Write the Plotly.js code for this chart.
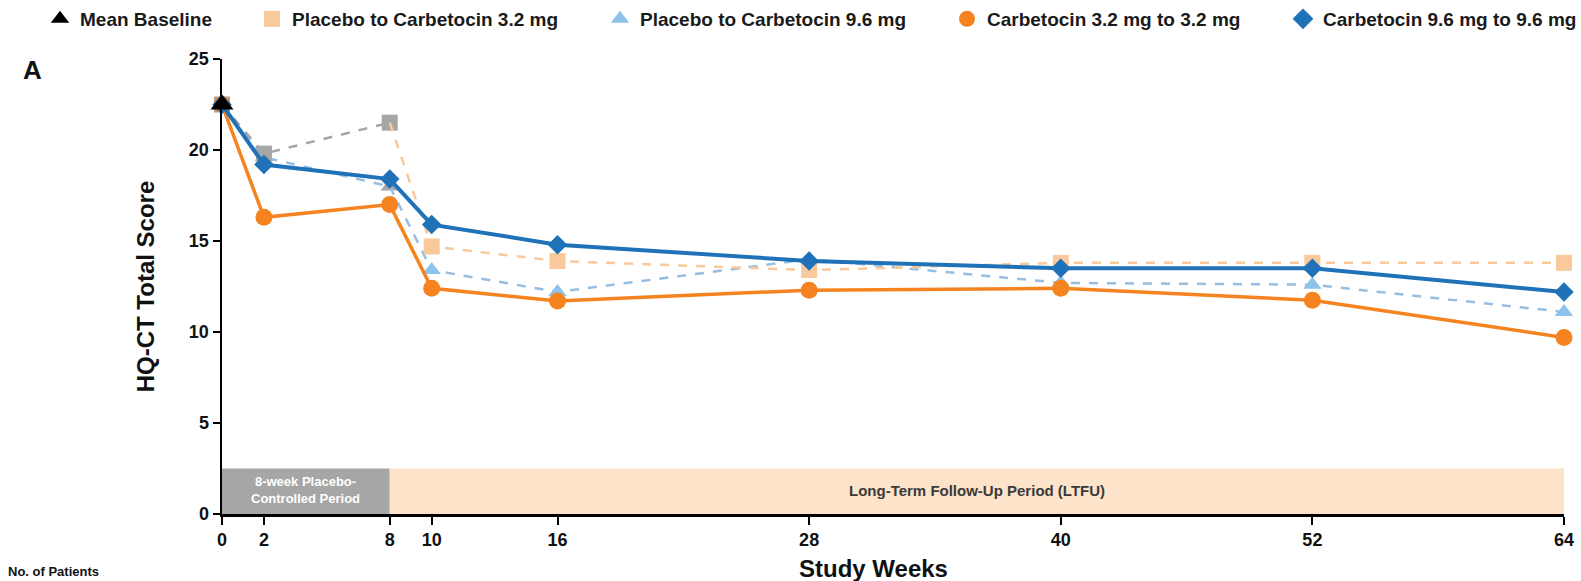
<!DOCTYPE html>
<html>
<head>
<meta charset="utf-8">
<script src="https://cdn.plot.ly/plotly-3.0.1.min.js"></script>
<style>
  html, body { margin: 0; padding: 0; background: #ffffff; }
  #chart { width: 1581px; height: 581px; }
</style>
</head>
<body>
<div id="chart"></div>
<script>
// ---- Data ----
const weeks = [0, 2, 8, 10, 16, 28, 40, 52, 64];
const baselineWeek = [0];
const baselineScore = [22.5];
const placeboTo32 = [22.5, 19.8, 21.5, 14.7, 13.9, 13.4, 13.8, 13.8, 13.8];
const placeboTo96 = [22.5, 19.6, 18.0, 13.4, 12.2, 14.0, 12.7, 12.6, 11.1];
const carb32 = [22.5, 16.3, 17.0, 12.4, 11.7, 12.3, 12.4, 11.75, 9.7];
const carb96 = [22.5, 19.2, 18.4, 15.9, 14.8, 13.9, 13.5, 13.5, 12.2];
const tickWeeks = [0, 2, 8, 10, 16, 28, 40, 52, 64];
const periods = [
  { name: "8-week Placebo-<br>Controlled Period", start: 0, end: 8 },
  { name: "Long-Term Follow-Up Period (LTFU)", start: 8, end: 64 }
];
const periodBandTop = 2.5;
const legendNames = ["Mean Baseline", "Placebo to Carbetocin 3.2 mg", "Placebo to Carbetocin 9.6 mg",
                     "Carbetocin 3.2 mg to 3.2 mg", "Carbetocin 9.6 mg to 9.6 mg"];

// ---- Styles ----
const FONT = "Liberation Sans, Arial, Helvetica, sans-serif";
const C = {
  black: "#000000",
  gray: "#a6a6a6",
  peach: "#f9c99b",
  lightBlue: "#8cc3ea",
  lightBlueLine: "#97bde0",
  orange: "#f5831f",
  blue: "#1f72b8",
  grayBand: "#a6a6a6",
  peachBand: "#fce3c9"
};

const nPlc = 3;                      // indices 0..2 : placebo-controlled period (weeks 0-8)
const plcX = weeks.slice(0, nPlc);
const ltfuX = weeks.slice(nPlc - 1);
const ltfuOpacity = ltfuX.map((_, i) => (i === 0 ? 0 : 1));

const traces = [
  // Placebo-controlled period (gray)
  { x: plcX, y: placeboTo96.slice(0, nPlc), mode: "lines+markers", showlegend: false, cliponaxis: false,
    line: { color: C.lightBlueLine, width: 2.5, dash: "dash" },
    marker: { symbol: "triangle-up", size: 16, color: C.gray } },
  { x: plcX, y: placeboTo32.slice(0, nPlc), mode: "lines+markers", showlegend: false, cliponaxis: false,
    line: { color: C.gray, width: 2.5, dash: "dash" },
    marker: { symbol: "square", size: 16, color: C.gray } },
  // LTFU period for placebo groups
  { x: ltfuX, y: placeboTo96.slice(nPlc - 1), mode: "lines+markers", showlegend: false, cliponaxis: false,
    line: { color: C.lightBlueLine, width: 2.5, dash: "dash" },
    marker: { symbol: "triangle-up", size: 16, color: C.lightBlue, opacity: ltfuOpacity } },
  { x: ltfuX, y: placeboTo32.slice(nPlc - 1), mode: "lines+markers", showlegend: false, cliponaxis: false,
    line: { color: C.peach, width: 2.5, dash: "dash" },
    marker: { symbol: "square", size: 16, color: C.peach, opacity: ltfuOpacity } },
  // Carbetocin groups
  { x: weeks, y: carb32, mode: "lines+markers", showlegend: false, cliponaxis: false,
    line: { color: C.orange, width: 3.5 },
    marker: { symbol: "circle", size: 17, color: C.orange } },
  { x: weeks, y: carb96, mode: "lines+markers", showlegend: false, cliponaxis: false,
    line: { color: C.blue, width: 4 },
    marker: { symbol: "diamond", size: 15, color: C.blue } },
  // Mean baseline
  { x: baselineWeek, y: baselineScore, mode: "markers", showlegend: false, cliponaxis: false,
    marker: { symbol: "triangle-up", size: 20, color: C.black } },

  // Legend entries (markers only)
  { x: [null], y: [null], mode: "markers", name: legendNames[0], legend: "legend",
    marker: { symbol: "triangle-up", size: 20, color: C.black } },
  { x: [null], y: [null], mode: "markers", name: legendNames[1], legend: "legend2",
    marker: { symbol: "square", size: 20, color: C.peach } },
  { x: [null], y: [null], mode: "markers", name: legendNames[2], legend: "legend3",
    marker: { symbol: "triangle-up", size: 20, color: C.lightBlue } },
  { x: [null], y: [null], mode: "markers", name: legendNames[3], legend: "legend4",
    marker: { symbol: "circle", size: 20, color: C.orange } },
  { x: [null], y: [null], mode: "markers", name: legendNames[4], legend: "legend5",
    marker: { symbol: "diamond", size: 20, color: C.blue } }
];

const W = 1581, H = 581;
const M = { l: 222, r: 17, t: 59, b: 67, autoexpand: false };
const plotW = W - M.l - M.r, plotH = H - M.t - M.b;
const px2x = (px) => (px - M.l) / plotW;
const px2y = (py) => (H - M.b - py) / plotH;

function legendAt(textStartPx) {
  return {
    x: px2x(textStartPx - 40), xanchor: "left",
    y: px2y(19), yanchor: "middle",
    orientation: "h", bgcolor: "rgba(0,0,0,0)", borderwidth: 0,
    font: { family: FONT, size: 19, color: "#1a1a1a", weight: "bold" },
    itemclick: false, itemdoubleclick: false
  };
}

const shapes = [
  { type: "rect", xref: "x", yref: "y", x0: periods[0].start, x1: periods[0].end, y0: 0, y1: periodBandTop,
    fillcolor: C.grayBand, line: { width: 0 }, layer: "below" },
  { type: "rect", xref: "x", yref: "y", x0: periods[1].start, x1: periods[1].end, y0: 0, y1: periodBandTop,
    fillcolor: C.peachBand, line: { width: 0 }, layer: "below" }
];

const annotations = [
  { xref: "x", yref: "y", x: (periods[0].start + periods[0].end) / 2, y: periodBandTop * 0.52,
    text: periods[0].name, showarrow: false,
    font: { family: FONT, size: 13, color: "#ffffff", weight: "bold" }, align: "center" },
  { xref: "x", yref: "y", x: (periods[1].start + periods[1].end) / 2, y: periodBandTop * 0.52,
    text: periods[1].name, showarrow: false,
    font: { family: FONT, size: 15, color: "#3a3a3a", weight: "bold" } },
  { xref: "paper", yref: "paper", x: px2x(21), y: px2y(70), xanchor: "left", yanchor: "middle",
    text: "A", showarrow: false, font: { family: FONT, size: 26, color: "#111111", weight: "bold" } },
  { xref: "paper", yref: "paper", x: px2x(6), y: px2y(581), xanchor: "left", yanchor: "bottom",
    text: "No. of Patients", showarrow: false, font: { family: FONT, size: 13, color: "#111111", weight: "bold" } },
  { xref: "paper", yref: "paper", x: px2x(873), y: px2y(568), xanchor: "center", yanchor: "middle",
    text: "Study Weeks", showarrow: false, font: { family: FONT, size: 24, color: "#111111", weight: "bold" } }
];

const axisCommon = {
  showgrid: false, zeroline: false, showline: true, linecolor: "#000000", linewidth: 2.5,
  ticks: "outside", ticklen: 8, tickwidth: 2, tickcolor: "#000000",
  tickfont: { family: FONT, size: 18, color: "#111111", weight: "bold" }
};

const layout = {
  width: W, height: H,
  margin: M,
  paper_bgcolor: "#ffffff", plot_bgcolor: "#ffffff",
  xaxis: Object.assign({}, axisCommon, {
    range: [0, 64], tickmode: "array", tickvals: tickWeeks, ticktext: tickWeeks.map(String)
  }),
  yaxis: Object.assign({}, axisCommon, {
    range: [0, 25], tickmode: "linear", tick0: 0, dtick: 5, ticklen: 7,
    title: { text: "HQ-CT Total Score", standoff: 28, font: { family: FONT, size: 24, color: "#111111", weight: "bold" } }
  }),
  legend: legendAt(80),
  legend2: legendAt(292),
  legend3: legendAt(640),
  legend4: legendAt(987),
  legend5: legendAt(1323),
  shapes: shapes,
  annotations: annotations
};

Plotly.newPlot("chart", traces, layout, { displayModeBar: false, staticPlot: true });
</script>
</body>
</html>
